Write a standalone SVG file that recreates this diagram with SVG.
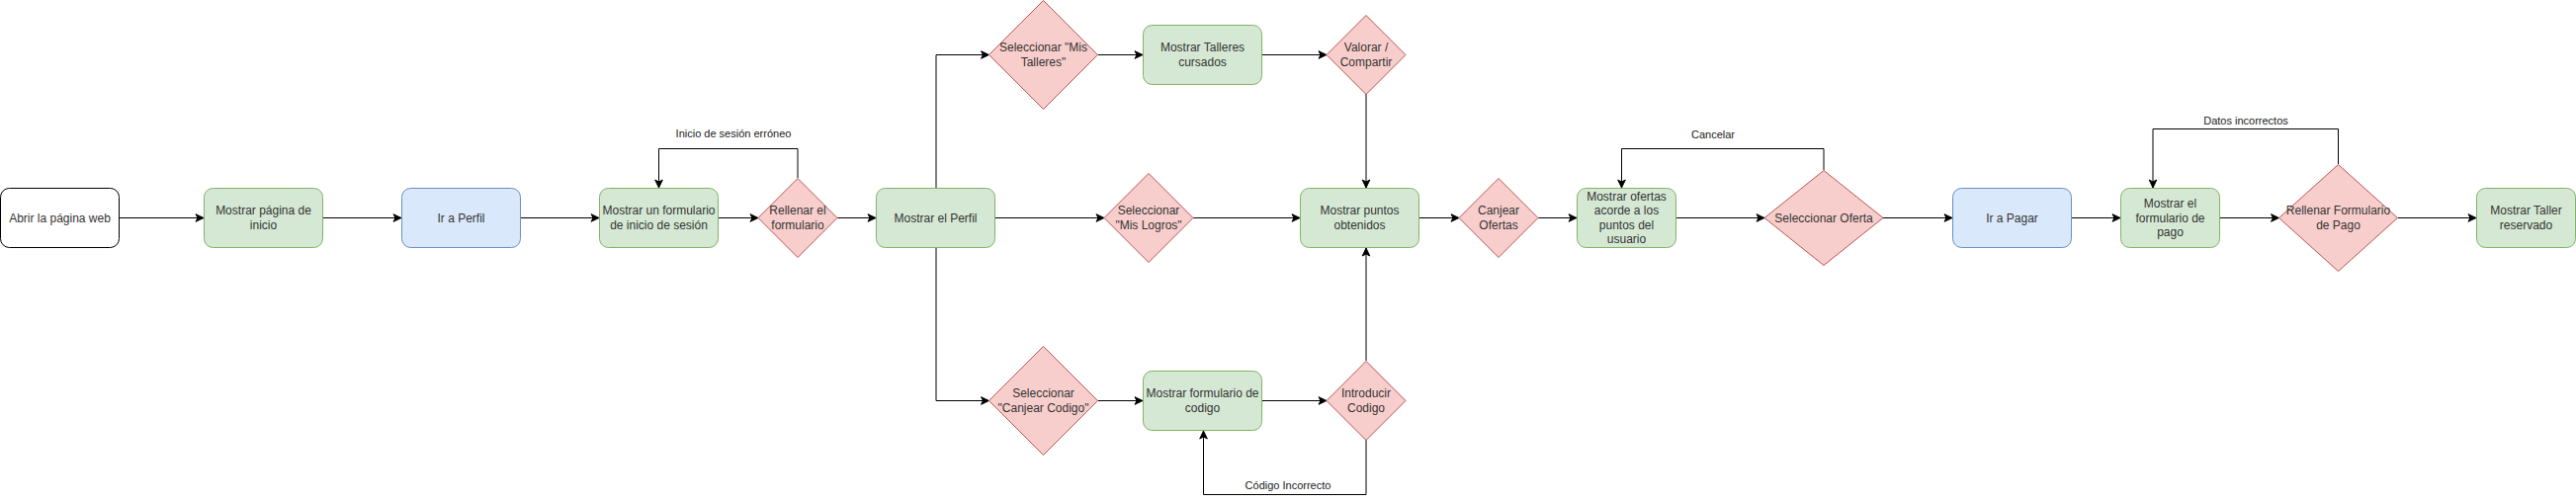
<svg xmlns="http://www.w3.org/2000/svg" width="2606" height="509" viewBox="0 0 2606 509">
<style>
.g{fill:#d5e8d4;stroke:#82b366;stroke-width:1}
.b{fill:#dae8fc;stroke:#6c8ebf;stroke-width:1}
.w{fill:#ffffff;stroke:#000000;stroke-width:1}
.r{fill:#f8cecc;stroke:#b85450;stroke-width:1}
.t{font-family:"Liberation Sans",Arial,sans-serif;font-size:12px;fill:#333333;text-anchor:middle}
.el{font-family:"Liberation Sans",Arial,sans-serif;font-size:11px;fill:#1a1a1a;text-anchor:middle}
.c{fill:none;stroke:#000000;stroke-width:1;marker-end:url(#arr)}
</style>
<defs>
<marker id="arr" markerUnits="userSpaceOnUse" markerWidth="10" markerHeight="10" viewBox="0 0 10 10" refX="9" refY="5" orient="auto">
<path d="M1,1.2 L9,5 L1,8.8 L3,5 Z" fill="#000000" stroke="#000000" stroke-width="1"/>
</marker>
</defs>
<rect width="2606" height="509" fill="#ffffff"/>
<g id="connectors">
<path class="c" d="M120.5,220.5 H206"/>
<path class="c" d="M326.5,220.5 H406"/>
<path class="c" d="M526.5,220.5 H606"/>
<path class="c" d="M726.5,220.5 H767"/>
<path class="c" d="M847,220.5 H886"/>
<path class="c" d="M807,180 V150.5 H666.5 V190"/>
<path class="c" d="M947,190.5 V55.5 H1000.5"/>
<path class="c" d="M1006.5,220.5 H1117"/>
<path class="c" d="M947,250.5 V405.5 H1000.5"/>
<path class="c" d="M1110.5,55.5 H1156"/>
<path class="c" d="M1276.5,55.5 H1342"/>
<path class="c" d="M1382,95 V190"/>
<path class="c" d="M1207,220.5 H1315"/>
<path class="c" d="M1110.5,405.5 H1156"/>
<path class="c" d="M1276.5,405.5 H1342"/>
<path class="c" d="M1382,365 V251"/>
<path class="c" d="M1382,445 V500.5 H1217.5 V436"/>
<path class="c" d="M1435.5,220.5 H1476"/>
<path class="c" d="M1556,220.5 H1595"/>
<path class="c" d="M1695.5,220.5 H1785"/>
<path class="c" d="M1845,172 V150.5 H1640.5 V190"/>
<path class="c" d="M1905,220.5 H1975"/>
<path class="c" d="M2095.5,220.5 H2145"/>
<path class="c" d="M2245.5,220.5 H2305.5"/>
<path class="c" d="M2365.5,166 V130.5 H2178 V190"/>
<path class="c" d="M2425.5,220.5 H2505"/>
<text class="el" x="742" y="139">Inicio de sesión erróneo</text>
<text class="el" x="1303" y="495">Código Incorrecto</text>
<text class="el" x="1733" y="140">Cancelar</text>
<text class="el" x="2272" y="126">Datos incorrectos</text>
</g>
<g id="n1"><rect class="w" x="0.5" y="190.5" width="120" height="60" rx="9"/><text class="t" x="60.5" y="224.5">Abrir la página web</text></g>
<g id="n2"><rect class="g" x="206.5" y="190.5" width="120" height="60" rx="9"/><text class="t" x="266.5" y="217">Mostrar página de<tspan x="266.5" dy="15">inicio</tspan></text></g>
<g id="n3"><rect class="b" x="406.5" y="190.5" width="120" height="60" rx="9"/><text class="t" x="466.5" y="224.5">Ir a Perfil</text></g>
<g id="n4"><rect class="g" x="606.5" y="190.5" width="120" height="60" rx="9"/><text class="t" x="666.5" y="217">Mostrar un formulario<tspan x="666.5" dy="15">de inicio de sesión</tspan></text></g>
<g id="n5"><polygon class="r" points="767,220.5 807,180.5 847,220.5 807,260.5"/><text class="t" x="807" y="217">Rellenar el<tspan x="807" dy="15">formulario</tspan></text></g>
<g id="n6"><rect class="g" x="886.5" y="190.5" width="120" height="60" rx="9"/><text class="t" x="946.5" y="224.5">Mostrar el Perfil</text></g>
<g id="n7"><polygon class="r" points="1000.5,55.5 1055.5,0.5 1110.5,55.5 1055.5,110.5"/><text class="t" x="1055.5" y="52">Seleccionar "Mis<tspan x="1055.5" dy="15">Talleres"</tspan></text></g>
<g id="n8"><rect class="g" x="1156.5" y="25.5" width="120" height="60" rx="9"/><text class="t" x="1216.5" y="52">Mostrar Talleres<tspan x="1216.5" dy="15">cursados</tspan></text></g>
<g id="n9"><polygon class="r" points="1342,55.5 1382,15.5 1422,55.5 1382,95.5"/><text class="t" x="1382" y="52">Valorar /<tspan x="1382" dy="15">Compartir</tspan></text></g>
<g id="n10"><polygon class="r" points="1117,220.5 1162,175.5 1207,220.5 1162,265.5"/><text class="t" x="1162" y="217">Seleccionar<tspan x="1162" dy="15">"Mis Logros"</tspan></text></g>
<g id="n11"><rect class="g" x="1315.5" y="190.5" width="120" height="60" rx="9"/><text class="t" x="1375.5" y="217">Mostrar puntos<tspan x="1375.5" dy="15">obtenidos</tspan></text></g>
<g id="n12"><polygon class="r" points="1000.5,405.5 1055.5,350.5 1110.5,405.5 1055.5,460.5"/><text class="t" x="1055.5" y="402">Seleccionar<tspan x="1055.5" dy="15">"Canjear Codigo"</tspan></text></g>
<g id="n13"><rect class="g" x="1156.5" y="375.5" width="120" height="60" rx="9"/><text class="t" x="1216.5" y="402">Mostrar formulario de<tspan x="1216.5" dy="15">codigo</tspan></text></g>
<g id="n14"><polygon class="r" points="1342,405.5 1382,365.5 1422,405.5 1382,445.5"/><text class="t" x="1382" y="402">Introducir<tspan x="1382" dy="15">Codigo</tspan></text></g>
<g id="n15"><polygon class="r" points="1476,220.5 1516,180.5 1556,220.5 1516,260.5"/><text class="t" x="1516" y="217">Canjear<tspan x="1516" dy="15">Ofertas</tspan></text></g>
<g id="n16"><rect class="g" x="1595.5" y="190.5" width="100" height="60" rx="9"/><text class="t" x="1645.5" y="203">Mostrar ofertas<tspan x="1645.5" dy="14.3">acorde a los</tspan><tspan x="1645.5" dy="14.3">puntos del</tspan><tspan x="1645.5" dy="14.3">usuario</tspan></text></g>
<g id="n17"><polygon class="r" points="1785,220.5 1845,172.5 1905,220.5 1845,268.5"/><text class="t" x="1845" y="224.5">Seleccionar Oferta</text></g>
<g id="n18"><rect class="b" x="1975.5" y="190.5" width="120" height="60" rx="9"/><text class="t" x="2035.5" y="224.5">Ir a Pagar</text></g>
<g id="n19"><rect class="g" x="2145.5" y="190.5" width="100" height="60" rx="9"/><text class="t" x="2195.5" y="210">Mostrar el<tspan x="2195.5" dy="14.5">formulario de</tspan><tspan x="2195.5" dy="14.5">pago</tspan></text></g>
<g id="n20"><polygon class="r" points="2305.5,220.5 2365.5,166.5 2425.5,220.5 2365.5,274.5"/><text class="t" x="2365.5" y="217">Rellenar Formulario<tspan x="2365.5" dy="15">de Pago</tspan></text></g>
<g id="n21"><rect class="g" x="2505.5" y="190.5" width="100" height="60" rx="9"/><text class="t" x="2555.5" y="217">Mostrar Taller<tspan x="2555.5" dy="15">reservado</tspan></text></g>
</svg>
